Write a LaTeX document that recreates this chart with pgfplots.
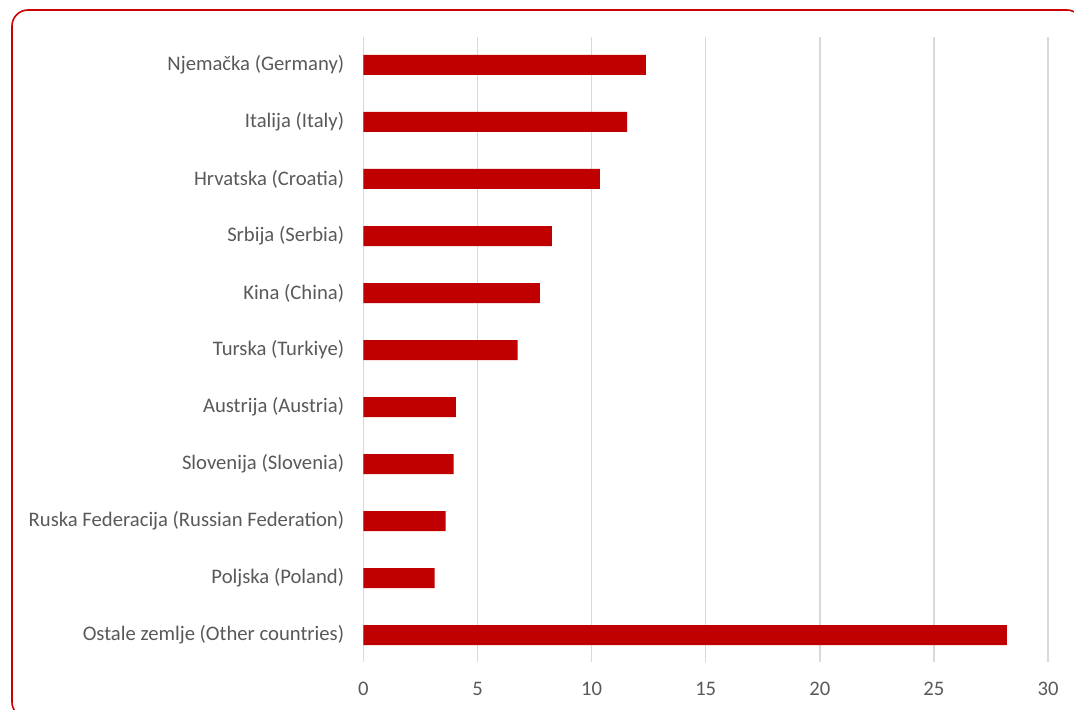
\documentclass[border=0pt]{standalone}
\usepackage{pgfplots}
\pgfplotsset{compat=1.18}
\usepackage{fontspec}
\setmainfont{Carlito}
\definecolor{barred}{RGB}{192,0,0}
\definecolor{framered}{RGB}{204,0,0}
\definecolor{txt}{RGB}{89,89,89}
\definecolor{gridgray}{RGB}{217,217,217}
\begin{document}
\begin{tikzpicture}[x=1pt,y=1pt]
\useasboundingbox (0,0) rectangle (805.5,532.5);
\begin{scope}
\clip (0,0) rectangle (805.5,532.5);
\draw[framered, line width=1.2pt, rounded corners=12pt] (9,525) rectangle (812,-6);
\end{scope}
\begin{axis}[
  at={(272.6pt,36pt)}, anchor=south west,
  scale only axis, width=513.4pt, height=468.75pt,
  xmin=0, xmax=30,
  ymin=-0.49, ymax=10.47, y dir=reverse,
  xtick={0,5,...,30},
  ytick={0,...,10},
  yticklabels={Njemačka (Germany),Italija (Italy),Hrvatska (Croatia),Srbija (Serbia),Kina (China),Turska (Turkiye),Austrija (Austria),Slovenija (Slovenia),Ruska Federacija (Russian Federation),Poljska (Poland),Ostale zemlje (Other countries)},
  axis line style={draw=none},
  major tick length=0pt,
  xmajorgrids=true, ymajorgrids=false,
  major grid style={draw=gridgray, line width=1.1pt},
  tick label style={font=\fontsize{15.5}{18}\selectfont, text=txt},
  /pgf/number format/assume math mode=true,
  yticklabel style={xshift=-11pt},
  xticklabel style={yshift=-11.5pt},
  clip=false,
]
\addplot[xbar, bar width=15pt, fill=barred, draw=none] coordinates {
(12.38,0) (11.55,1) (10.36,2) (8.26,3) (7.73,4) (6.76,5) (4.05,6) (3.95,7) (3.60,8) (3.12,9) (28.2,10)
};
\end{axis}
\end{tikzpicture}
\end{document}
